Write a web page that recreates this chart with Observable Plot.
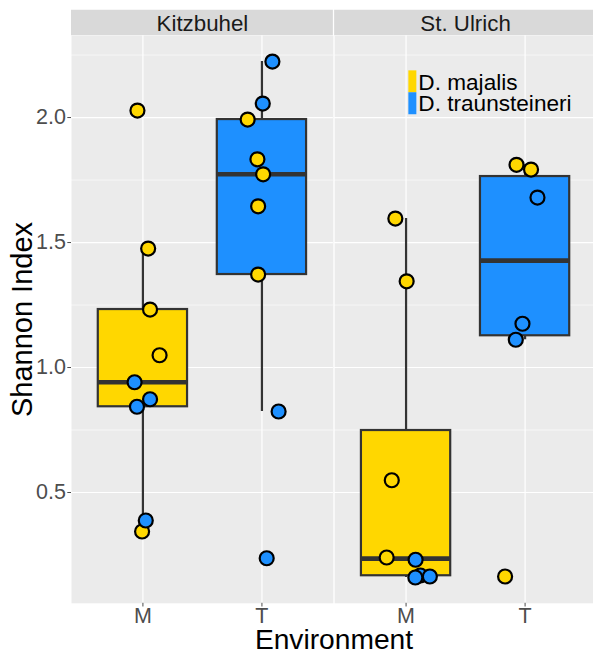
<!DOCTYPE html>
<html><head><meta charset="utf-8">
<script src="https://cdn.jsdelivr.net/npm/d3@7"></script>
<script src="https://cdn.jsdelivr.net/npm/@observablehq/plot@0.6"></script>
<style>html,body{margin:0;padding:0;background:#fff;overflow:hidden;}</style>
</head><body><div id="chart"></div>
<script>
// ---- data ----
const locations = ["Kitzbuhel", "St. Ulrich"];
const environments = ["M", "T"];
const speciesNames = ["D. majalis", "D. traunsteineri"];
const speciesColors = ["#FFD700", "#1E90FF"];
const environmentColors = ["#FFD700", "#1E90FF"];
const yTicks = [0.5, 1.0, 1.5, 2.0];
const yMinorTicks = [0.75, 1.25, 1.75, 2.25];

const sampleLocation = [
  "Kitzbuhel","Kitzbuhel","Kitzbuhel","Kitzbuhel","Kitzbuhel","Kitzbuhel","Kitzbuhel","Kitzbuhel","Kitzbuhel",
  "Kitzbuhel","Kitzbuhel","Kitzbuhel","Kitzbuhel","Kitzbuhel","Kitzbuhel","Kitzbuhel","Kitzbuhel","Kitzbuhel",
  "St. Ulrich","St. Ulrich","St. Ulrich","St. Ulrich","St. Ulrich","St. Ulrich","St. Ulrich","St. Ulrich",
  "St. Ulrich","St. Ulrich","St. Ulrich","St. Ulrich","St. Ulrich","St. Ulrich"
];
const sampleEnvironment = [
  "M","M","M","M","M","M","M","M","M",
  "T","T","T","T","T","T","T","T","T",
  "M","M","M","M","M","M","M","M",
  "T","T","T","T","T","T"
];
const sampleSpecies = [
  "D. majalis","D. majalis","D. majalis","D. majalis","D. majalis","D. traunsteineri","D. traunsteineri","D. traunsteineri","D. traunsteineri",
  "D. majalis","D. majalis","D. majalis","D. majalis","D. majalis","D. traunsteineri","D. traunsteineri","D. traunsteineri","D. traunsteineri",
  "D. majalis","D. majalis","D. majalis","D. majalis","D. traunsteineri","D. traunsteineri","D. traunsteineri","D. traunsteineri",
  "D. majalis","D. majalis","D. majalis","D. traunsteineri","D. traunsteineri","D. traunsteineri"
];
const shannon = [
  2.028, 1.476, 1.232, 1.049, 0.344, 0.941, 0.873, 0.843, 0.388,
  1.992, 1.833, 1.773, 1.645, 1.372, 2.224, 2.056, 0.824, 0.237,
  1.596, 1.345, 0.549, 0.240, 0.168, 0.164, 0.160, 0.231,
  1.811, 1.792, 0.164, 1.680, 1.175, 1.111
];
// horizontal jitter of each point (in category units)
const jitter = [
  -0.046, 0.044, 0.060, 0.140, -0.007, -0.070, 0.060, -0.050, 0.024,
  -0.120, -0.038, 0.010, -0.032, -0.032, 0.088, 0.007, 0.140, 0.040,
  -0.090, 0.005, -0.120, -0.163, 0.120, 0.200, 0.078, 0.080,
  -0.072, 0.050, -0.168, 0.104, -0.022, -0.078
];

// ---- derived tables ----
const samples = shannon.map((v, i) => ({
  loc: sampleLocation[i], env: sampleEnvironment[i], species: sampleSpecies[i],
  value: v, xi: environments.indexOf(sampleEnvironment[i]) + 1 + jitter[i]
}));

const stats = [];
for (const loc of locations) for (const env of environments) {
  const v = samples.filter(d => d.loc === loc && d.env === env).map(d => d.value).sort(d3.ascending);
  const q1 = d3.quantileSorted(v, 0.25), med = d3.quantileSorted(v, 0.5), q3 = d3.quantileSorted(v, 0.75);
  const iqr = q3 - q1;
  const lo = d3.min(v.filter(x => x >= q1 - 1.5 * iqr));
  const hi = d3.max(v.filter(x => x <= q3 + 1.5 * iqr));
  stats.push({loc, env, xi: environments.indexOf(env) + 1, q1, med, q3, lo, hi});
}

const [vmin, vmax] = d3.extent(shannon);
const yDomain = [vmin - 0.05 * (vmax - vmin), vmax + 0.05 * (vmax - vmin)];
const xDomain = [0.4, 2.6];
const boxHalf = 0.375;
const font = "'Liberation Sans', Arial, Helvetica, sans-serif";

function stripBackground(index, scales) {
  const {x, y} = scales;
  const left = x(xDomain[0]), right = x(xDomain[1]);
  const top = y(yDomain[1]);
  const r = document.createElementNS("http://www.w3.org/2000/svg", "rect");
  r.setAttribute("x", left);
  r.setAttribute("y", top - 25.5);
  r.setAttribute("width", right - left);
  r.setAttribute("height", 25.5);
  r.setAttribute("fill", "#D9D9D9");
  return r;
}

const keySymbol = {draw(context) { context.rect(-4, -11, 8, 22); }};
const legendMarks = speciesNames.flatMap((name, i) => [
  Plot.dot([name], {fx: () => locations[1], frameAnchor: "top-left", dx: 77.7, dy: 45.6 + i * 21.9,
    symbol: keySymbol, fill: speciesColors[i], stroke: "none"}),
  Plot.text([name], {fx: () => locations[1], frameAnchor: "top-left", dx: 83.7, dy: 47.2 + i * 20.6,
    text: d => d, textAnchor: "start", lineAnchor: "middle", fontSize: 22.6, fill: "#000"})
]);

const chart = Plot.plot({
  width: 596,
  height: 652,
  marginLeft: 71,
  marginRight: 0,
  marginTop: 35.25,
  marginBottom: 49.2,
  style: {fontFamily: font, background: "white", maxWidth: "none", overflow: "visible"},
  fx: {domain: locations, paddingInner: 0.00494, paddingOuter: 0, round: false, axis: null, label: null},
  x: {domain: xDomain, axis: null},
  y: {domain: yDomain, axis: null},
  marks: [
    Plot.frame({fill: "#EBEBEB", stroke: "none"}),
    stripBackground,
    Plot.text(locations, {fx: d => d, text: d => d, frameAnchor: "top", lineAnchor: "middle", dy: -11.6,
      fontSize: 22.3, fill: "#1A1A1A"}),
    Plot.ruleY(yMinorTicks, {stroke: "white", strokeWidth: 0.6}),
    Plot.ruleY(yTicks, {stroke: "white", strokeWidth: 1.2}),
    Plot.ruleX([1, 2], {stroke: "white", strokeWidth: 1.2}),
    Plot.ruleX(stats, {fx: "loc", x: "xi", y1: "lo", y2: "hi", stroke: "#333333", strokeWidth: 2.2}),
    Plot.rect(stats, {fx: "loc", x1: d => d.xi - boxHalf, x2: d => d.xi + boxHalf, y1: "q1", y2: "q3",
      fill: d => environmentColors[environments.indexOf(d.env)], stroke: "#333333", strokeWidth: 2.2}),
    Plot.ruleY(stats, {fx: "loc", y: "med", x1: d => d.xi - boxHalf, x2: d => d.xi + boxHalf,
      stroke: "#333333", strokeWidth: 4.6}),
    Plot.dot(samples, {fx: "loc", x: "xi", y: "value", r: 7,
      fill: d => speciesColors[speciesNames.indexOf(d.species)], stroke: "black", strokeWidth: 2.2}),
    ...legendMarks,
    Plot.axisY({ticks: yTicks, tickFormat: d3.format(".1f"), tickSize: 3.7, tickPadding: 1.8,
      fontSize: 21.5, color: "#4D4D4D", label: null}),
    Plot.axisX({ticks: [1, 2], tickFormat: d => environments[d - 1], tickSize: 3.7, tickPadding: 0.5,
      fontSize: 21.5, color: "#4D4D4D", label: null}),
    Plot.text(["Environment"], {facet: "super", frameAnchor: "bottom", lineAnchor: "middle", textAnchor: "middle",
      dy: 36.5, fontSize: 28.2, fill: "#000", text: d => d}),
    Plot.text(["Shannon Index"], {facet: "super", frameAnchor: "left", lineAnchor: "middle", textAnchor: "middle",
      rotate: -90, dx: -48.6, fontSize: 29, fill: "#000", text: d => d})
  ]
});
document.getElementById("chart").appendChild(chart);
</script>
</body></html>
